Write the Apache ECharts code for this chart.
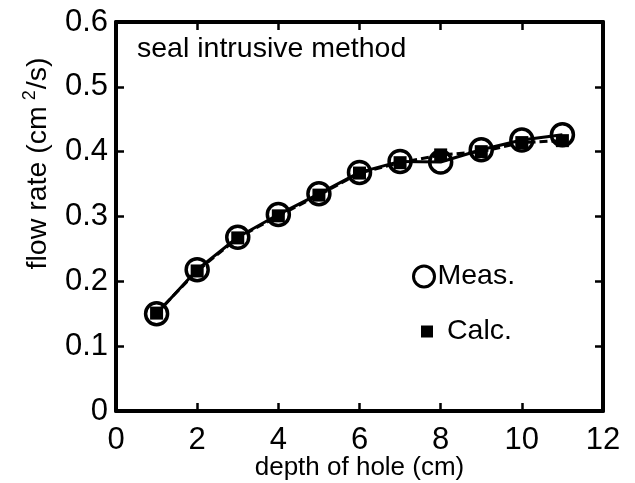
<!DOCTYPE html>
<html>
<head>
<meta charset="utf-8">
<script src="https://cdn.jsdelivr.net/npm/echarts@6/dist/echarts.min.js"></script>
<style>
  html, body { margin: 0; padding: 0; background: #fff; }
  #chart { width: 635px; height: 483px; }
</style>
</head>
<body>
<div id="chart"></div>
<script>
// depth of hole (cm)
const depth = [1, 2, 3, 4, 5, 6, 7, 8, 9, 10, 11];
// flow rate (cm^2/s)
const measured = [0.150, 0.218, 0.268, 0.303, 0.335, 0.368, 0.385, 0.384, 0.403, 0.418, 0.426];
const calculated = [0.151, 0.216, 0.267, 0.301, 0.333, 0.367, 0.383, 0.395, 0.400, 0.414, 0.417];

const font = 'Liberation Sans';

const pairs = (ys) => depth.map((x, i) => [x, ys[i]]);

const tickStyle = { show: true, inside: true, length: 8, lineStyle: { color: '#000', width: 2.5 } };
const axisLine = { show: true, onZero: false, lineStyle: { color: '#000', width: 4 } };

const option = {
  backgroundColor: '#fff',
  textStyle: { fontFamily: font },
  animation: false,
  title: {
    text: 'seal intrusive method',
    left: 137,
    top: 35,
    padding: 0,
    textStyle: { fontSize: 28.5, fontWeight: 'normal', color: '#000', fontFamily: font }
  },
  legend: [{
    left: 412,
    top: 262,
    padding: 0,
    itemWidth: 21,
    itemHeight: 21,
    textStyle: { fontSize: 28.5, color: '#000', fontFamily: font, padding: [0, 0, 0, -2] },
    data: [{ name: 'Meas.', icon: 'circle', itemStyle: { color: 'rgba(0,0,0,0)', borderColor: '#000', borderWidth: 3 } }]
  }, {
    left: 421,
    top: 317,
    padding: 0,
    itemWidth: 12,
    itemHeight: 12,
    textStyle: { fontSize: 28.5, color: '#000', fontFamily: font, padding: [0, 0, 0, 9] },
    data: [{ name: 'Calc.', icon: 'rect', itemStyle: { color: '#000', borderWidth: 0 } }]
  }],
  grid: { left: 116, right: 32, top: 22, bottom: 72, outerBoundsMode: 'none', containLabel: false },
  xAxis: [{
    type: 'value',
    min: 0, max: 12, interval: 2,
    name: 'depth of hole (cm)',
    nameLocation: 'middle',
    nameGap: 44,
    nameMoveOverlap: false,
    nameTextStyle: { fontSize: 26, color: '#000', fontFamily: font },
    axisLine: axisLine,
    axisTick: tickStyle,
    axisLabel: { fontSize: 31, color: '#000', margin: 14, fontFamily: font },
    splitLine: { show: false }
  }, {
    type: 'value',
    position: 'top',
    min: 0, max: 12, interval: 2,
    axisLine: axisLine,
    axisTick: tickStyle,
    axisLabel: { show: false },
    splitLine: { show: false }
  }],
  yAxis: [{
    type: 'value',
    min: 0, max: 0.6, interval: 0.1,
    name: '{a|flow rate (cm}{s|2}{a|/s)}',
    nameLocation: 'middle',
    nameGap: 60,
    nameMoveOverlap: false,
    nameTextStyle: {
      color: '#000',
      padding: [0, 0, 0, 106],
      rich: {
        a: { fontSize: 28.5, color: '#000', fontFamily: font },
        s: { fontSize: 18, color: '#000', fontFamily: font, padding: [0, 1, 17, 6] }
      }
    },
    axisLine: axisLine,
    axisTick: tickStyle,
    axisLabel: { fontSize: 31, color: '#000', margin: 8, fontFamily: font },
    splitLine: { show: false }
  }, {
    type: 'value',
    position: 'right',
    min: 0, max: 0.6, interval: 0.1,
    axisLine: axisLine,
    axisTick: tickStyle,
    axisLabel: { show: false },
    splitLine: { show: false }
  }],
  series: [{
    name: 'Calc.',
    type: 'line',
    data: pairs(calculated),
    symbol: 'rect',
    symbolSize: 13,
    itemStyle: { color: '#000' },
    lineStyle: { color: '#000', width: 3, type: [8, 4] },
    z: 3
  }, {
    name: 'Meas.',
    type: 'line',
    data: pairs(measured),
    symbol: 'circle',
    symbolSize: 22,
    itemStyle: { color: 'rgba(0,0,0,0)', borderColor: '#000', borderWidth: 3.5 },
    lineStyle: { color: '#000', width: 3 },
    z: 2
  }]
};

const chart = echarts.init(document.getElementById('chart'));
chart.setOption(option);
</script>
</body>
</html>
